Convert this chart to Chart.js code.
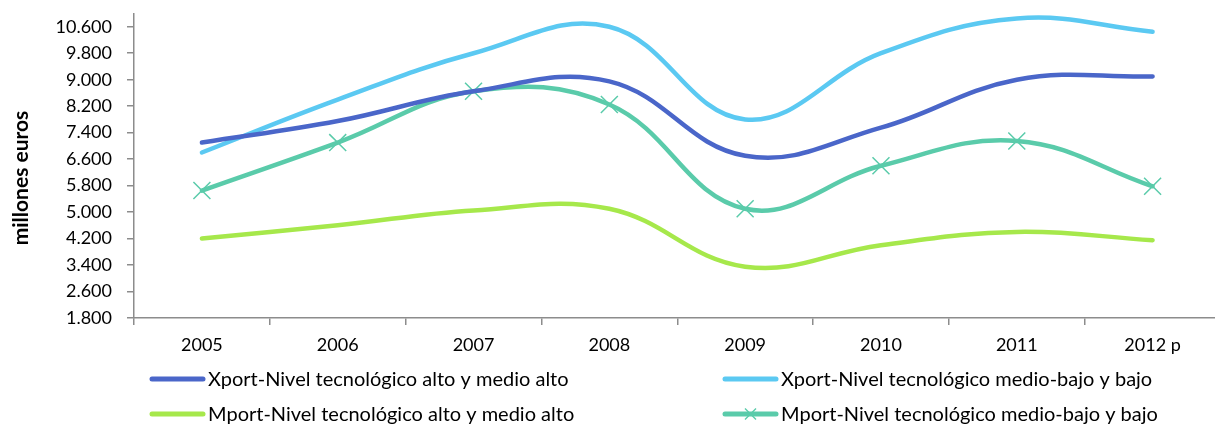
<!DOCTYPE html>
<html>
<head>
<meta charset="utf-8">
<script src="https://cdn.jsdelivr.net/npm/chart.js@4/dist/chart.umd.min.js"></script>
<style>
  html, body { margin: 0; padding: 0; background: #fff; overflow: hidden; }
  #wrap { width: 1215px; height: 426px; overflow: hidden; position: relative; }
  canvas { display: block; }
</style>
</head>
<body>
<div id="wrap"><canvas id="c" width="1234" height="426"></canvas></div>
<script>
// Categories (years) and series values, millones de euros
const years = ['2005', '2006', '2007', '2008', '2009', '2010', '2011', '2012 p'];
const xportAltoMedioAlto = [7100, 7750, 8650, 8950, 6700, 7550, 9000, 9100];
const xportMedioBajoBajo = [6800, 8400, 9800, 10600, 7800, 9800, 10850, 10450];
const mportAltoMedioAlto = [4200, 4600, 5050, 5100, 3350, 4000, 4400, 4150];
const mportMedioBajoBajo = [5650, 7100, 8650, 8250, 5100, 6400, 7150, 5780];

const seriesNames = [
  'Xport-Nivel tecnológico alto y medio alto',
  'Xport-Nivel tecnológico medio-bajo y bajo',
  'Mport-Nivel tecnológico alto y medio alto',
  'Mport-Nivel tecnológico medio-bajo y bajo'
];
const yMin = 1800, yMax = 11000, yStep = 800, yLastTick = 10600;
const yTitle = 'millones euros';

const colors = ['#4a66c9', '#5bc9f2', '#a6e84b', '#5acbaa'];
const FONT = 'Lato, "Open Sans", sans-serif';
const AXIS_GREY = '#8c8c8c';

// Chart area placement inside the canvas
const AREA_LEFT = 134, AREA_TOP = 12, AREA_BOTTOM = 318;

function fmtThousands(v) {
  return String(Math.round(v)).replace(/\B(?=(\d{3})+(?!\d))/g, '.');
}

function lineDataset(label, data, color, marker) {
  return {
    label, data,
    borderColor: color,
    backgroundColor: color,
    borderWidth: 4.5,
    borderCapStyle: 'round',
    borderJoinStyle: 'round',
    tension: 0.4,
    fill: false,
    pointStyle: marker ? 'crossRot' : false,
    pointRadius: marker ? 12 : 0,
    pointBorderWidth: 1.5,
    pointBorderColor: color,
    pointHoverRadius: marker ? 12 : 0
  };
}

// Two-column legend and rotated axis title drawn on the chart canvas
const decorations = {
  id: 'decorations',
  afterDraw(chart) {
    const ctx = chart.ctx;
    ctx.save();
    ctx.fillStyle = '#000';
    ctx.font = 'bold 21px ' + FONT;
    ctx.textAlign = 'center';
    ctx.textBaseline = 'middle';
    ctx.translate(21, 178);
    ctx.rotate(-Math.PI / 2);
    ctx.fillText(yTitle, 0, 0);
    ctx.restore();

    const items = [
      { x: 150, y: 379 }, { x: 723, y: 379 },
      { x: 150, y: 414 }, { x: 723, y: 414 }
    ];
    chart.data.datasets.forEach((ds, i) => {
      const p = items[i];
      ctx.save();
      ctx.strokeStyle = ds.borderColor;
      ctx.lineWidth = 5;
      ctx.lineCap = 'round';
      ctx.beginPath();
      ctx.moveTo(p.x + 2, p.y);
      ctx.lineTo(p.x + 53, p.y);
      ctx.stroke();
      if (ds.pointStyle) {
        ctx.lineWidth = 1.4;
        ctx.lineCap = 'butt';
        const cx = p.x + 27.5, r = 5.5;
        ctx.beginPath();
        ctx.moveTo(cx - r, p.y - r); ctx.lineTo(cx + r, p.y + r);
        ctx.moveTo(cx - r, p.y + r); ctx.lineTo(cx + r, p.y - r);
        ctx.stroke();
      }
      ctx.fillStyle = '#000';
      ctx.font = '20px ' + FONT;
      ctx.textAlign = 'left';
      ctx.textBaseline = 'middle';
      ctx.fillText(ds.label, p.x + 58, p.y + 1);
      ctx.restore();
    });
  }
};

new Chart(document.getElementById('c'), {
  type: 'line',
  data: {
    labels: years,
    datasets: [
      lineDataset(seriesNames[0], xportAltoMedioAlto, colors[0], false),
      lineDataset(seriesNames[1], xportMedioBajoBajo, colors[1], false),
      lineDataset(seriesNames[2], mportAltoMedioAlto, colors[2], false),
      lineDataset(seriesNames[3], mportMedioBajoBajo, colors[3], true)
    ]
  },
  options: {
    responsive: false,
    animation: false,
    layout: { padding: 0 },
    plugins: {
      legend: { display: false },
      tooltip: { enabled: false }
    },
    scales: {
      x: {
        offset: true,
        grid: {
          offset: true,
          drawOnChartArea: false,
          drawTicks: true,
          tickLength: 7,
          color: AXIS_GREY,
          lineWidth: 1.5
        },
        border: { color: AXIS_GREY, width: 1.5 },
        ticks: {
          color: '#000',
          font: { family: FONT, size: 18 },
          padding: 9,
          maxRotation: 0,
          autoSkip: false
        },
        afterFit(scale) {
          scale.height = 426 - AREA_BOTTOM;
          scale.paddingLeft = 0; scale.paddingRight = 0;
        }
      },
      y: {
        min: yMin,
        max: yMax,
        afterBuildTicks(scale) {
          const t = [];
          for (let v = yMin; v <= yLastTick; v += yStep) t.push({ value: v });
          scale.ticks = t;
        },
        grid: {
          drawOnChartArea: false,
          drawTicks: true,
          tickLength: 7,
          color: AXIS_GREY,
          lineWidth: 1.5
        },
        border: { color: AXIS_GREY, width: 1.5 },
        ticks: {
          color: '#000',
          font: { family: FONT, size: 18 },
          padding: 15,
          callback: (v) => fmtThousands(v)
        },
        afterFit(scale) {
          scale.width = AREA_LEFT;
          scale.paddingTop = AREA_TOP; scale.paddingBottom = 0;
        }
      }
    }
  },
  plugins: [decorations]
});
</script>
</body>
</html>
